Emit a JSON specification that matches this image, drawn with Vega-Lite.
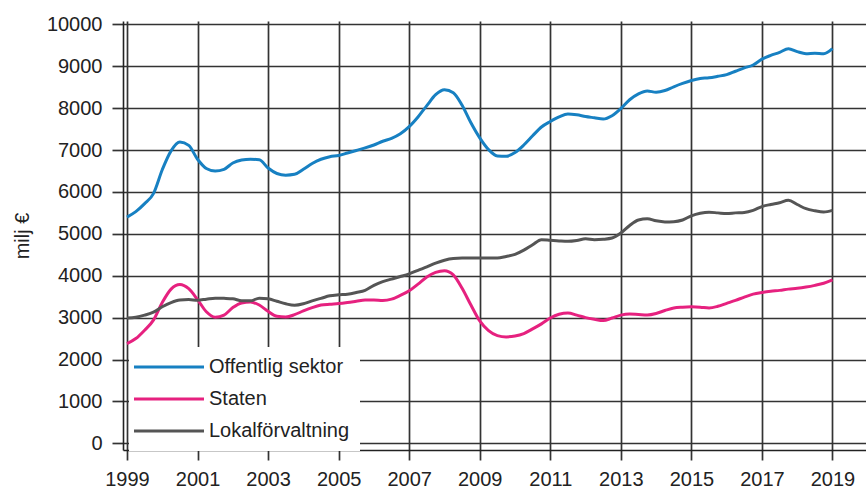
{
  "$schema": "https://vega.github.io/schema/vega-lite/v6.json",
  "width": 743,
  "height": 429,
  "autosize": "none",
  "padding": {"left": 123, "top": 21, "right": 0, "bottom": 41},
  "background": "white",
  "config": {
    "view": {"stroke": null},
    "font": "Liberation Sans",
    "axis": {
      "gridColor": "#333333",
      "gridWidth": 1.7,
      "gridOpacity": 1,
      "tickColor": "#333333",
      "tickWidth": 1.7,
      "domainColor": "#222222",
      "domainWidth": 1.6,
      "labelFontSize": 20,
      "labelColor": "#222222",
      "titleFontSize": 20,
      "titleFontWeight": "normal",
      "titleColor": "#222222"
    }
  },
  "data": {
    "values": [
      {"year": 1999.00, "Offentlig sektor": 5400, "Staten": 2380, "Lokalförvaltning": 2990},
      {"year": 1999.25, "Offentlig sektor": 5530, "Staten": 2500, "Lokalförvaltning": 3010},
      {"year": 1999.50, "Offentlig sektor": 5720, "Staten": 2700, "Lokalförvaltning": 3060},
      {"year": 1999.75, "Offentlig sektor": 5960, "Staten": 2940, "Lokalförvaltning": 3130},
      {"year": 2000.00, "Offentlig sektor": 6530, "Staten": 3360, "Lokalförvaltning": 3260},
      {"year": 2000.25, "Offentlig sektor": 6980, "Staten": 3680, "Lokalförvaltning": 3360},
      {"year": 2000.50, "Offentlig sektor": 7190, "Staten": 3790, "Lokalförvaltning": 3420},
      {"year": 2000.75, "Offentlig sektor": 7110, "Staten": 3690, "Lokalförvaltning": 3430},
      {"year": 2001.00, "Offentlig sektor": 6780, "Staten": 3430, "Lokalförvaltning": 3415},
      {"year": 2001.25, "Offentlig sektor": 6560, "Staten": 3140, "Lokalförvaltning": 3440},
      {"year": 2001.50, "Offentlig sektor": 6500, "Staten": 3010, "Lokalförvaltning": 3465},
      {"year": 2001.75, "Offentlig sektor": 6540, "Staten": 3060, "Lokalförvaltning": 3460},
      {"year": 2002.00, "Offentlig sektor": 6690, "Staten": 3240, "Lokalförvaltning": 3450},
      {"year": 2002.25, "Offentlig sektor": 6760, "Staten": 3350, "Lokalförvaltning": 3400},
      {"year": 2002.50, "Offentlig sektor": 6780, "Staten": 3370, "Lokalförvaltning": 3400},
      {"year": 2002.75, "Offentlig sektor": 6770, "Staten": 3300, "Lokalförvaltning": 3465},
      {"year": 2003.00, "Offentlig sektor": 6570, "Staten": 3150, "Lokalförvaltning": 3450},
      {"year": 2003.25, "Offentlig sektor": 6440, "Staten": 3030, "Lokalförvaltning": 3390},
      {"year": 2003.50, "Offentlig sektor": 6400, "Staten": 3015, "Lokalförvaltning": 3330},
      {"year": 2003.75, "Offentlig sektor": 6420, "Staten": 3070, "Lokalförvaltning": 3295},
      {"year": 2004.00, "Offentlig sektor": 6540, "Staten": 3160, "Lokalförvaltning": 3330},
      {"year": 2004.25, "Offentlig sektor": 6680, "Staten": 3240, "Lokalförvaltning": 3400},
      {"year": 2004.50, "Offentlig sektor": 6780, "Staten": 3300, "Lokalförvaltning": 3460},
      {"year": 2004.75, "Offentlig sektor": 6840, "Staten": 3320, "Lokalförvaltning": 3520},
      {"year": 2005.00, "Offentlig sektor": 6870, "Staten": 3335, "Lokalförvaltning": 3545},
      {"year": 2005.25, "Offentlig sektor": 6930, "Staten": 3360, "Lokalförvaltning": 3560},
      {"year": 2005.50, "Offentlig sektor": 6990, "Staten": 3390, "Lokalförvaltning": 3600},
      {"year": 2005.75, "Offentlig sektor": 7050, "Staten": 3420, "Lokalförvaltning": 3650},
      {"year": 2006.00, "Offentlig sektor": 7120, "Staten": 3420, "Lokalförvaltning": 3770},
      {"year": 2006.25, "Offentlig sektor": 7210, "Staten": 3410, "Lokalförvaltning": 3860},
      {"year": 2006.50, "Offentlig sektor": 7280, "Staten": 3440, "Lokalförvaltning": 3920},
      {"year": 2006.75, "Offentlig sektor": 7390, "Staten": 3530, "Lokalförvaltning": 3980},
      {"year": 2007.00, "Offentlig sektor": 7560, "Staten": 3640, "Lokalförvaltning": 4045},
      {"year": 2007.25, "Offentlig sektor": 7790, "Staten": 3800, "Lokalförvaltning": 4130},
      {"year": 2007.50, "Offentlig sektor": 8060, "Staten": 3970, "Lokalförvaltning": 4210},
      {"year": 2007.75, "Offentlig sektor": 8320, "Staten": 4080, "Lokalförvaltning": 4300},
      {"year": 2008.00, "Offentlig sektor": 8440, "Staten": 4120, "Lokalförvaltning": 4370},
      {"year": 2008.25, "Offentlig sektor": 8370, "Staten": 4020, "Lokalförvaltning": 4410},
      {"year": 2008.50, "Offentlig sektor": 8070, "Staten": 3700, "Lokalförvaltning": 4420},
      {"year": 2008.75, "Offentlig sektor": 7650, "Staten": 3300, "Lokalförvaltning": 4420},
      {"year": 2009.00, "Offentlig sektor": 7290, "Staten": 2920, "Lokalförvaltning": 4420},
      {"year": 2009.25, "Offentlig sektor": 7010, "Staten": 2690, "Lokalförvaltning": 4420},
      {"year": 2009.50, "Offentlig sektor": 6860, "Staten": 2570, "Lokalförvaltning": 4420},
      {"year": 2009.75, "Offentlig sektor": 6850, "Staten": 2540, "Lokalförvaltning": 4460},
      {"year": 2010.00, "Offentlig sektor": 6940, "Staten": 2560, "Lokalförvaltning": 4510},
      {"year": 2010.25, "Offentlig sektor": 7120, "Staten": 2620, "Lokalförvaltning": 4610},
      {"year": 2010.50, "Offentlig sektor": 7340, "Staten": 2730, "Lokalförvaltning": 4740},
      {"year": 2010.75, "Offentlig sektor": 7550, "Staten": 2850, "Lokalförvaltning": 4860},
      {"year": 2011.00, "Offentlig sektor": 7680, "Staten": 2990, "Lokalförvaltning": 4845},
      {"year": 2011.25, "Offentlig sektor": 7790, "Staten": 3080, "Lokalförvaltning": 4830},
      {"year": 2011.50, "Offentlig sektor": 7860, "Staten": 3110, "Lokalförvaltning": 4820},
      {"year": 2011.75, "Offentlig sektor": 7840, "Staten": 3060, "Lokalförvaltning": 4840},
      {"year": 2012.00, "Offentlig sektor": 7800, "Staten": 3000, "Lokalförvaltning": 4880},
      {"year": 2012.25, "Offentlig sektor": 7770, "Staten": 2960, "Lokalförvaltning": 4860},
      {"year": 2012.50, "Offentlig sektor": 7740, "Staten": 2930, "Lokalförvaltning": 4870},
      {"year": 2012.75, "Offentlig sektor": 7820, "Staten": 2990, "Lokalförvaltning": 4900},
      {"year": 2013.00, "Offentlig sektor": 7990, "Staten": 3060, "Lokalförvaltning": 5020},
      {"year": 2013.25, "Offentlig sektor": 8200, "Staten": 3085, "Lokalförvaltning": 5200},
      {"year": 2013.50, "Offentlig sektor": 8340, "Staten": 3075, "Lokalförvaltning": 5330},
      {"year": 2013.75, "Offentlig sektor": 8410, "Staten": 3065, "Lokalförvaltning": 5360},
      {"year": 2014.00, "Offentlig sektor": 8380, "Staten": 3100, "Lokalförvaltning": 5310},
      {"year": 2014.25, "Offentlig sektor": 8420, "Staten": 3170, "Lokalförvaltning": 5285},
      {"year": 2014.50, "Offentlig sektor": 8510, "Staten": 3230, "Lokalförvaltning": 5290},
      {"year": 2014.75, "Offentlig sektor": 8590, "Staten": 3250, "Lokalförvaltning": 5330},
      {"year": 2015.00, "Offentlig sektor": 8660, "Staten": 3260, "Lokalförvaltning": 5430},
      {"year": 2015.25, "Offentlig sektor": 8710, "Staten": 3250, "Lokalförvaltning": 5490},
      {"year": 2015.50, "Offentlig sektor": 8725, "Staten": 3230, "Lokalförvaltning": 5515},
      {"year": 2015.75, "Offentlig sektor": 8760, "Staten": 3270, "Lokalförvaltning": 5500},
      {"year": 2016.00, "Offentlig sektor": 8800, "Staten": 3340, "Lokalförvaltning": 5485},
      {"year": 2016.25, "Offentlig sektor": 8880, "Staten": 3410, "Lokalförvaltning": 5500},
      {"year": 2016.50, "Offentlig sektor": 8960, "Staten": 3490, "Lokalförvaltning": 5510},
      {"year": 2016.75, "Offentlig sektor": 9030, "Staten": 3560, "Lokalförvaltning": 5560},
      {"year": 2017.00, "Offentlig sektor": 9170, "Staten": 3600, "Lokalförvaltning": 5650},
      {"year": 2017.25, "Offentlig sektor": 9260, "Staten": 3630, "Lokalförvaltning": 5700},
      {"year": 2017.50, "Offentlig sektor": 9330, "Staten": 3650, "Lokalförvaltning": 5740},
      {"year": 2017.75, "Offentlig sektor": 9420, "Staten": 3680, "Lokalförvaltning": 5800},
      {"year": 2018.00, "Offentlig sektor": 9350, "Staten": 3700, "Lokalförvaltning": 5700},
      {"year": 2018.25, "Offentlig sektor": 9300, "Staten": 3730, "Lokalförvaltning": 5600},
      {"year": 2018.50, "Offentlig sektor": 9310, "Staten": 3770, "Lokalförvaltning": 5550},
      {"year": 2018.75, "Offentlig sektor": 9300, "Staten": 3820, "Lokalförvaltning": 5520},
      {"year": 2019.00, "Offentlig sektor": 9420, "Staten": 3900, "Lokalförvaltning": 5560}
    ]
  },
  "transform": [
    {"fold": ["Offentlig sektor", "Staten", "Lokalförvaltning"], "as": ["serie", "value"]}
  ],
  "mark": {"type": "line", "strokeWidth": 3, "interpolate": "monotone"},
  "encoding": {
    "x": {
      "field": "year",
      "type": "quantitative",
      "scale": {"domain": [1998.887, 2019.95], "nice": false, "zero": false},
      "axis": {
        "title": null,
        "values": [1999, 2001, 2003, 2005, 2007, 2009, 2011, 2013, 2015, 2017, 2019],
        "format": "d",
        "grid": true,
        "tickSize": 10,
        "labelPadding": 9,
        "labelFlush": false
      }
    },
    "y": {
      "field": "value",
      "type": "quantitative",
      "scale": {"domain": [-160, 10080], "nice": false, "zero": false},
      "axis": {
        "title": "milj €",
        "values": [0, 1000, 2000, 3000, 4000, 5000, 6000, 7000, 8000, 9000, 10000],
        "format": "d",
        "grid": true,
        "tickSize": 11,
        "labelPadding": 10,
        "titlePadding": 14
      }
    },
    "color": {
      "field": "serie",
      "type": "nominal",
      "sort": ["Offentlig sektor", "Staten", "Lokalförvaltning"],
      "scale": {
        "domain": ["Offentlig sektor", "Staten", "Lokalförvaltning"],
        "range": ["#1780c2", "#e6217f", "#555555"]
      },
      "legend": {
        "title": null,
        "orient": "none",
        "legendX": 6,
        "legendY": 326,
        "fillColor": "white",
        "padding": 10,
        "symbolType": "M-5,0H5",
        "symbolSize": 196,
        "symbolStrokeWidth": 3,
        "symbolOffset": 20,
        "labelOffset": 30,
        "labelFontSize": 20,
        "labelColor": "#222222",
        "rowPadding": 12
      }
    }
  }
}
